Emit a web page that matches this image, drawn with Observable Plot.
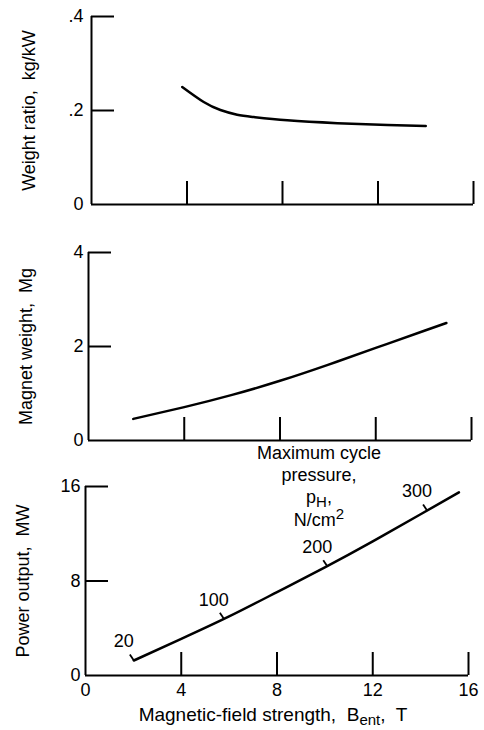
<!DOCTYPE html>
<html><head><meta charset="utf-8">
<script src="https://cdn.jsdelivr.net/npm/d3@7"></script>
<script src="https://cdn.jsdelivr.net/npm/@observablehq/plot@0.6"></script>
<style>
body{margin:0;background:#fff;}
#wrap{position:relative;width:484px;height:730px;font-family:"Liberation Sans",Arial,sans-serif;color:#000;overflow:hidden;}
.panel{position:absolute;left:0;}
.note{position:absolute;text-align:center;font-size:18px;color:#000;white-space:nowrap;}
.sub{font-size:15px;position:relative;top:4px;}
.sup{font-size:15px;position:relative;top:-7px;}
</style></head><body><div id="wrap"></div>
<script>
// ---- data ----
const xTicks = [0, 4, 8, 12, 16];

const fieldStrength1 = [3.8, 4.7, 5.4, 6.1, 6.8, 8.2, 10.3, 12.4, 14.0];
const weightRatio = [0.250, 0.218, 0.201, 0.191, 0.186, 0.179, 0.173, 0.169, 0.167];
const weightTicks = [0, 0.2, 0.4];

const fieldStrength2 = [1.87, 4, 6, 8, 10, 12, 14, 14.95];
const magnetWeight = [0.46, 0.71, 0.97, 1.27, 1.61, 1.97, 2.33, 2.5];
const magnetTicks = [0, 2, 4];

const fieldStrength3 = [2.02, 4, 6, 8, 10, 12, 14, 15.6];
const powerOutput = [1.27, 3.1, 5.0, 7.06, 9.15, 11.35, 13.65, 15.5];
const powerTicks = [0, 8, 16];

const pressureLabels = ["20", "100", "200", "300"];
const pressureField = [2.02, 5.78, 10.1, 14.27];
const pressurePower = [1.27, 4.8, 9.25, 13.97];

// ---- drawing ----
const FONT = '"Liberation Sans", Arial, sans-serif';
const wrap = document.getElementById("wrap");

function panel(cfg) {
  const {top, height, mL, mR, mT, mB, xs, ys, yTicks, yFormat, label, showX, tickPad, extra} = cfg;
  const yMax = yTicks[yTicks.length - 1];
  const pxX = (484 - mL - mR) / 16;          // px per x unit
  const pxY = (height - mT - mB) / yMax;     // px per y unit
  const tickLen = 23;
  const line = xs.map((x, i) => ({x, y: ys[i]}));
  const marks = [
    Plot.ruleX([0], {y1: 0, y2: yMax, strokeWidth: 2}),
    Plot.ruleY([0], {x1: 0, x2: 16, strokeWidth: 2}),
    Plot.ruleY(yTicks.slice(1), {x1: 0, x2: tickLen / pxX, strokeWidth: 2}),
    Plot.ruleX(xTicks.slice(1), {y1: 0, y2: tickLen / pxY, strokeWidth: 2}),
    Plot.axisY({ticks: yTicks, tickSize: 0, tickPadding: tickPad, tickFormat: yFormat, fontSize: 18, label: null}),
    Plot.line(line, {x: "x", y: "y", curve: "natural", strokeWidth: 2.5}),
    Plot.text([label], {frameAnchor: "left", textAnchor: "middle", lineAnchor: "middle", rotate: -90, dx: -62, fontSize: 18})
  ];
  if (showX) marks.push(Plot.axisX({ticks: xTicks, tickSize: 0, tickPadding: 8, fontSize: 18, label: null}));
  if (extra) marks.push(...extra(pxX, pxY));
  const svg = Plot.plot({
    width: 484, height,
    marginLeft: mL, marginRight: mR, marginTop: mT, marginBottom: mB,
    x: {domain: [0, 16], axis: showX ? undefined : null, label: null},
    y: {domain: [0, yMax], label: null},
    style: {fontFamily: FONT, fontSize: "18px", background: "transparent", color: "#000", overflow: "visible"},
    marks
  });
  svg.classList.add("panel");
  svg.style.top = top + "px";
  wrap.appendChild(svg);
}

const decimalFmt = d => d === 0 ? "0" : d3.format(".1f")(d).replace(/^0/, "");

panel({top: 0, height: 216, mL: 91, mR: 11, mT: 16, mB: 12,
  xs: fieldStrength1, ys: weightRatio, yTicks: weightTicks, yFormat: decimalFmt,
  label: "Weight ratio,  kg/kW", showX: false, tickPad: 8});

panel({top: 230, height: 220, mL: 88, mR: 13, mT: 22, mB: 10,
  xs: fieldStrength2, ys: magnetWeight, yTicks: magnetTicks, yFormat: d => String(d),
  label: "Magnet weight,  Mg", showX: false, tickPad: 5});

panel({top: 440, height: 290, mL: 85, mR: 16, mT: 46, mB: 55,
  xs: fieldStrength3, ys: powerOutput, yTicks: powerTicks, yFormat: d => String(d),
  label: "Power output,  MW", showX: true, tickPad: 5,
  extra: (pxX, pxY) => {
    const pts = pressureLabels.map((t, i) => ({t, x: pressureField[i], y: pressurePower[i]}));
    return [
      Plot.link(pts, {x1: "x", y1: "y", x2: d => d.x - 4 / pxX, y2: d => d.y + 6 / pxY, strokeWidth: 1.8}),
      Plot.text(pts, {x: "x", y: "y", text: "t", dx: -10, dy: -19, fontSize: 18})
    ];
  }});

// legend title and x-axis title
const note = document.createElement("div");
note.className = "note";
note.style.left = "219px"; note.style.width = "200px"; note.style.top = "442px"; note.style.lineHeight = "22px";
note.innerHTML = 'Maximum cycle<br>pressure,<br>p<span class="sub">H</span>,<br>N/cm<span class="sup">2</span>';
wrap.appendChild(note);

const xt = document.createElement("div");
xt.className = "note";
xt.style.left = "100px"; xt.style.width = "346px"; xt.style.top = "705px";
xt.style.fontSize = "19px"; xt.style.lineHeight = "19px";
xt.innerHTML = 'Magnetic-field strength,&nbsp; B<span class="sub">ent</span>,&nbsp; T';
wrap.appendChild(xt);
</script>
</body></html>
